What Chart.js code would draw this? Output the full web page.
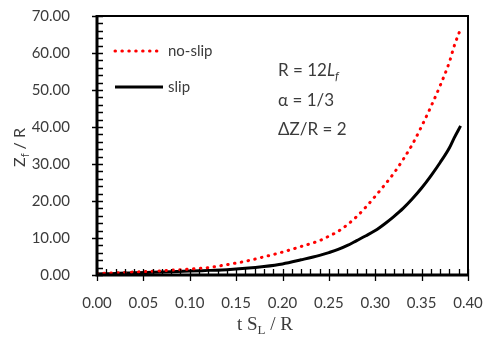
<!DOCTYPE html>
<html>
<head>
<meta charset="utf-8">
<script src="https://cdn.jsdelivr.net/npm/chart.js@4.4.0/dist/chart.umd.min.js"></script>
<style>
  html, body { margin: 0; padding: 0; background: #fff; }
  #wrap { width: 484px; height: 337px; }
</style>
</head>
<body>
<div id="wrap"><canvas id="zchart"></canvas></div>
<script>
const tValues = [0.00, 0.02, 0.04, 0.06, 0.08, 0.10, 0.12, 0.14, 0.16, 0.18, 0.20,
                 0.22, 0.24, 0.25, 0.26, 0.27, 0.28, 0.29, 0.30, 0.31, 0.32, 0.33,
                 0.34, 0.35, 0.36, 0.37, 0.38, 0.385, 0.392];
const noSlip = [0.4, 0.6, 0.8, 1.0, 1.3, 1.6, 2.0, 2.8, 3.7, 4.9, 6.2,
                7.7, 9.3, 10.5, 11.8, 13.6, 15.8, 18.4, 21.3, 24.3, 27.5, 31.2,
                35.3, 40.2, 45.5, 51.2, 57.6, 61.8, 66.5];
const slip = [0.3, 0.4, 0.6, 0.75, 0.9, 1.05, 1.25, 1.45, 1.8, 2.3, 3.0,
              4.1, 5.3, 6.05, 6.9, 8.0, 9.3, 10.6, 12.0, 13.8, 15.8, 18.0,
              20.6, 23.5, 26.8, 30.4, 34.4, 37.0, 40.3];
const legendNames = ['no-slip', 'slip'];
const notes = ['R = 12', '\u03b1 = 1/3', '\u0394Z/R = 2'];

const textColor = '#3b3b3b';
const sans = 'Lato';

function pts(ys) {
    return ys.map((y, i) => ({ x: tValues[i], y: y }));
}

// frame, minor ticks, legend, notes, axis titles
const decor = {
    id: 'decor',
    afterDraw(chart) {
        const c = chart.ctx;
        const a = chart.chartArea;
        const xs = chart.scales.x, ys = chart.scales.y;
        c.save();
        c.strokeStyle = '#000';

        // top/right frame
        c.lineWidth = 2;
        c.beginPath();
        c.moveTo(a.left, a.top); c.lineTo(a.right, a.top); c.lineTo(a.right, a.bottom);
        c.stroke();

        // ticks
        c.lineWidth = 1.3;
        c.beginPath();
        for (let v = 0; v <= 70.001; v += 2) {
            const y = Math.round(ys.getPixelForValue(v)) + 0.5;
            const major = Math.abs(v % 10) < 0.01;
            c.moveTo(a.left - (major ? 5 : 0), y);
            c.lineTo(a.left + 6, y);
        }
        for (let i = 0; i <= 40; i++) {
            const x = Math.round(xs.getPixelForValue(i / 100)) + 0.5;
            const major = i % 5 === 0;
            c.moveTo(x, a.bottom + (major ? 6 : 0));
            c.lineTo(x, a.bottom - 6);
        }
        c.stroke();

        // left/bottom axis
        c.lineWidth = 3;
        c.beginPath();
        c.moveTo(a.left, a.top - 1); c.lineTo(a.left, a.bottom); c.lineTo(a.right + 1, a.bottom);
        c.stroke();

        // legend
        c.lineCap = 'round';
        c.strokeStyle = '#ff0000';
        c.lineWidth = 3;
        c.setLineDash([0.5, 6.4]);
        c.beginPath(); c.moveTo(115, 51); c.lineTo(163, 51); c.stroke();
        c.setLineDash([]);
        c.lineCap = 'butt';
        c.strokeStyle = '#000';
        c.beginPath(); c.moveTo(115, 87); c.lineTo(163, 87); c.stroke();
        c.fillStyle = textColor;
        c.font = '15px ' + sans;
        c.textBaseline = 'alphabetic';
        c.textAlign = 'left';
        c.fillText(legendNames[0], 168, 56);
        c.fillText(legendNames[1], 168, 92);

        // notes
        c.font = '17px ' + sans;
        c.fillText(notes[0], 278, 76);
        let w = c.measureText(notes[0]).width;
        c.font = 'italic 17px ' + sans;
        c.fillText('L', 278 + w, 76);
        const wl = c.measureText('L').width;
        c.font = 'italic 12px ' + sans;
        c.fillText('f', 278 + w + wl, 80);
        c.font = '17px ' + sans;
        c.fillText(notes[1], 278, 106);
        c.fillText(notes[2], 278, 135);

        // x title: t S_L / R
        c.font = '19px "Liberation Serif"';
        let x = 237;
        c.fillText('t S', x, 330);
        x += c.measureText('t S').width;
        c.font = '13px "Liberation Serif"';
        c.fillText('L', x, 334);
        x += c.measureText('L').width;
        c.font = '19px "Liberation Serif"';
        c.fillText(' / R', x, 330);

        // y title: Z_f / R
        c.translate(25, 167);
        c.rotate(-Math.PI / 2);
        c.font = '16px ' + sans;
        c.fillText('Z', 0, 0);
        let yx = c.measureText('Z').width;
        c.font = '11px ' + sans;
        c.fillText('f', yx, 4);
        yx += c.measureText('f').width;
        c.font = '16px ' + sans;
        c.fillText(' / R', yx, 0);
        c.restore();
    }
};

const ctx = document.getElementById('zchart').getContext('2d');
const zchart = new Chart(ctx, {
    type: 'line',
    data: {
        datasets: [{
            label: legendNames[0],
            data: pts(noSlip),
            borderColor: '#ff0000',
            borderWidth: 3,
            borderDash: [0.5, 6.4],
            borderCapStyle: 'round',
            pointRadius: 0,
            cubicInterpolationMode: 'monotone',
            fill: false
        }, {
            label: legendNames[1],
            data: pts(slip),
            borderColor: '#000000',
            borderWidth: 3,
            pointRadius: 0,
            cubicInterpolationMode: 'monotone',
            fill: false
        }]
    },
    options: {
        responsive: true,
        maintainAspectRatio: false,
        animation: false,
        layout: { padding: { top: 16, right: 16 } },
        plugins: { legend: { display: false }, tooltip: { enabled: false } },
        scales: {
            x: {
                type: 'linear',
                min: 0,
                max: 0.4,
                grid: { display: false },
                border: { display: false },
                ticks: {
                    stepSize: 0.05,
                    padding: 11,
                    color: textColor,
                    font: { family: sans, size: 15 },
                    maxRotation: 0,
                    callback: v => v.toFixed(2)
                },
                afterFit(s) { s.height = 62; s.paddingLeft = 0; s.paddingRight = 0; }
            },
            y: {
                min: 0,
                max: 70,
                grid: { display: false },
                border: { display: false },
                ticks: {
                    stepSize: 10,
                    padding: 19,
                    color: textColor,
                    font: { family: sans, size: 15 },
                    callback: v => v.toFixed(2)
                },
                afterFit(s) { s.width = 97; s.paddingTop = 0; s.paddingBottom = 0; }
            }
        }
    },
    plugins: [decor]
});
</script>
</body>
</html>
